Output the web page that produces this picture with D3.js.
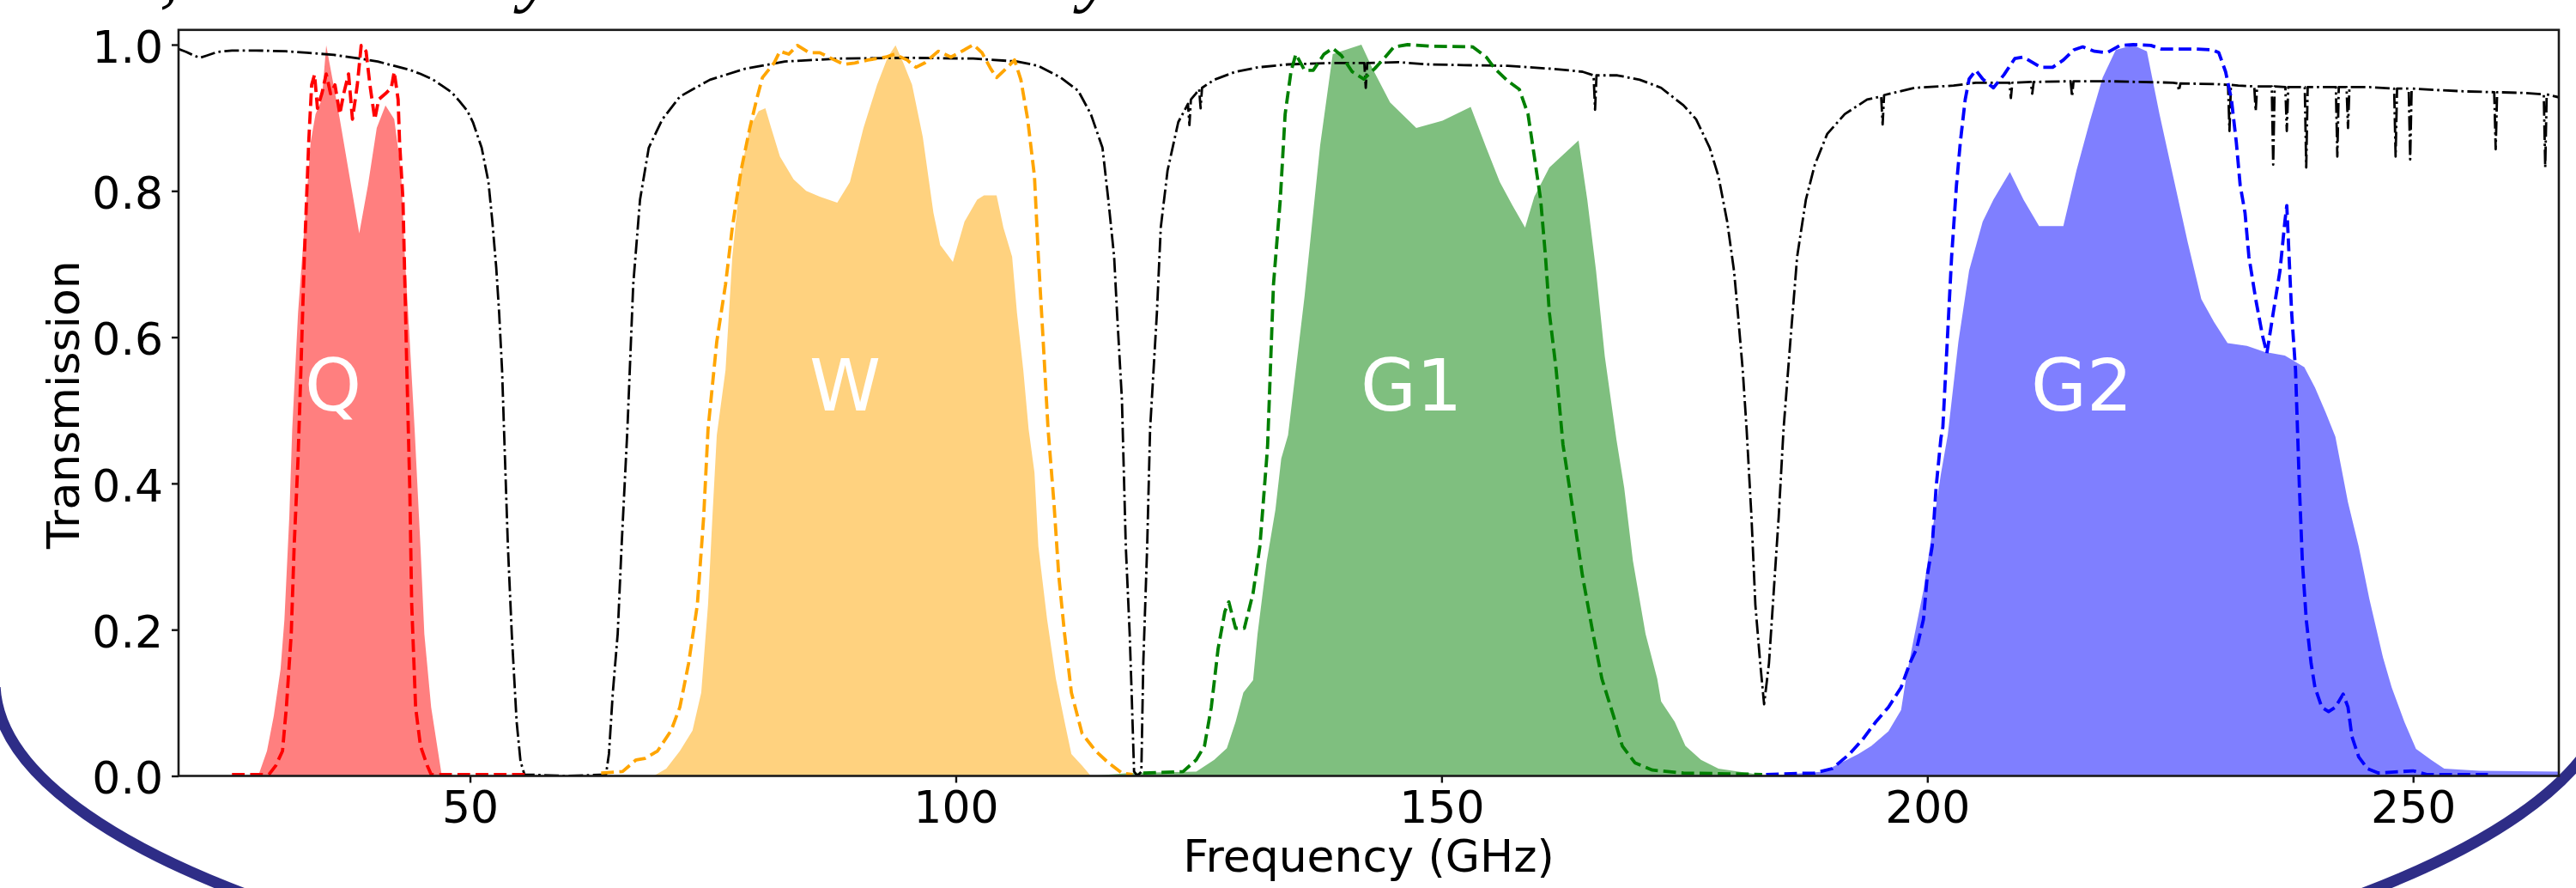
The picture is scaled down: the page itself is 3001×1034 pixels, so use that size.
<!DOCTYPE html>
<html><head><meta charset="utf-8">
<script src="https://cdn.jsdelivr.net/npm/d3@7"></script>
<style>body{margin:0;background:#fff;} svg{display:block;}</style>
</head><body>
<svg id="chart" width="3001" height="1034"></svg>
<script>
// ---- data (frequency GHz, transmission) ----
const atmosphere = [[20.0,0.994],[20.8,0.990],[21.6,0.985],[22.2,0.982],[22.9,0.985],[24.0,0.990],[25.5,0.992],[28.0,0.992],[31.0,0.991],[33.2,0.989],[36.0,0.986],[38.6,0.981],[40.5,0.977],[42.2,0.971],[43.7,0.966],[44.9,0.960],[46.1,0.953],[47.1,0.944],[48.1,0.935],[48.9,0.923],[49.7,0.910],[50.3,0.894],[51.2,0.859],[51.9,0.812],[52.3,0.758],[52.7,0.695],[53.0,0.633],[53.3,0.555],[53.5,0.474],[53.9,0.314],[54.3,0.194],[54.8,0.074],[55.2,0.020],[55.6,0.002],[60.0,0.0],[64.0,0.002],[64.3,0.030],[64.7,0.114],[65.2,0.194],[65.6,0.314],[66.2,0.474],[66.8,0.672],[67.5,0.788],[68.4,0.859],[69.8,0.898],[71.6,0.929],[74.7,0.952],[78.3,0.967],[82.4,0.977],[88.2,0.981],[95.0,0.982],[101.8,0.981],[106.3,0.977],[108.5,0.971],[110.8,0.955],[112.6,0.937],[113.9,0.905],[115.1,0.859],[115.7,0.788],[116.3,0.710],[116.6,0.633],[117.1,0.515],[117.5,0.314],[117.9,0.194],[118.1,0.114],[118.35,0.006],[118.7,0.0],[119.1,0.006],[119.3,0.154],[119.7,0.314],[120.0,0.474],[120.7,0.633],[121.1,0.750],[121.8,0.828],[122.9,0.894],[123.9,0.919],[124.05,0.890],[124.2,0.925],[124.7,0.933],[125.05,0.939],[125.2,0.913],[125.35,0.941],[126.6,0.952],[128.8,0.963],[131.1,0.969],[134.2,0.973],[138.8,0.975],[142.05,0.975],[142.2,0.941],[142.35,0.975],[145.6,0.976],[148.7,0.973],[152.3,0.972],[156.8,0.971],[161.4,0.967],[164.5,0.963],[165.65,0.958],[165.8,0.911],[165.95,0.958],[168.1,0.958],[170.4,0.952],[172.6,0.941],[174.9,0.917],[176.2,0.898],[177.6,0.859],[178.5,0.820],[179.4,0.758],[180.1,0.691],[180.5,0.633],[181.0,0.555],[181.4,0.474],[181.9,0.354],[182.3,0.234],[182.8,0.154],[183.2,0.098],[183.7,0.154],[184.1,0.234],[184.7,0.354],[185.2,0.474],[185.9,0.594],[186.6,0.710],[187.5,0.788],[188.4,0.835],[189.7,0.878],[191.5,0.905],[193.8,0.925],[195.25,0.929],[195.4,0.891],[195.55,0.931],[198.7,0.941],[202.7,0.944],[205.0,0.948],[208.45,0.948],[208.6,0.927],[208.75,0.948],[210.65,0.949],[210.8,0.933],[210.95,0.949],[214.75,0.950],[214.9,0.929],[215.05,0.950],[218.5,0.950],[225.3,0.948],[225.75,0.947],[225.9,0.937],[226.05,0.947],[229.8,0.946],[230.95,0.945],[231.1,0.882],[231.25,0.945],[232.0,0.944],[233.65,0.943],[233.8,0.909],[233.95,0.943],[235.45,0.943],[235.6,0.836],[235.75,0.943],[236.85,0.942],[237.0,0.882],[237.15,0.942],[238.85,0.942],[239.0,0.832],[239.15,0.942],[242.05,0.942],[242.2,0.847],[242.35,0.942],[243.15,0.942],[243.3,0.886],[243.45,0.942],[245.5,0.942],[248.05,0.940],[248.2,0.847],[248.35,0.940],[249.55,0.940],[249.7,0.843],[249.85,0.940],[252.3,0.938],[255.5,0.936],[258.35,0.935],[258.5,0.857],[258.65,0.935],[261.3,0.934],[263.45,0.932],[263.6,0.832],[263.75,0.932],[265.0,0.928]];

const qFill = [[28.2,0],[29.1,0.034],[29.8,0.082],[30.5,0.146],[30.9,0.214],[31.4,0.354],[31.7,0.474],[32.3,0.633],[32.95,0.750],[33.6,0.867],[34.1,0.905],[34.75,0.925],[35.2,0.999],[35.9,0.949],[36.6,0.898],[37.7,0.812],[38.6,0.742],[39.5,0.808],[40.4,0.886],[41.3,0.917],[42.2,0.898],[42.9,0.828],[43.3,0.710],[43.8,0.594],[44.3,0.474],[44.9,0.314],[45.3,0.194],[46.0,0.094],[46.7,0.034],[47.1,0]];
const qDash = [[25.5,0.002],[29.3,0.002],[30.0,0.014],[30.7,0.034],[31.1,0.094],[31.6,0.194],[31.9,0.314],[32.3,0.434],[32.5,0.515],[32.95,0.710],[33.4,0.867],[33.7,0.945],[34.0,0.959],[34.3,0.913],[34.75,0.933],[35.2,0.960],[35.65,0.933],[36.1,0.945],[36.6,0.905],[37.0,0.933],[37.5,0.960],[37.9,0.898],[38.4,0.945],[38.8,0.999],[39.3,0.991],[39.7,0.945],[40.2,0.898],[40.6,0.925],[41.3,0.933],[41.9,0.941],[42.2,0.963],[42.6,0.925],[42.75,0.867],[43.1,0.788],[43.3,0.672],[43.5,0.555],[43.8,0.394],[44.0,0.234],[44.4,0.094],[44.9,0.041],[45.6,0.014],[46.0,0.002],[55.7,0.002]];

const wFill = [[68.9,0.0],[70.2,0.010],[71.6,0.034],[72.9,0.062],[73.8,0.114],[74.5,0.234],[74.95,0.354],[75.4,0.466],[76.3,0.555],[77.0,0.710],[77.9,0.828],[78.8,0.886],[79.7,0.909],[80.4,0.913],[81.0,0.886],[81.9,0.847],[83.3,0.816],[84.6,0.800],[86.0,0.792],[87.8,0.784],[89.1,0.812],[90.5,0.886],[91.9,0.945],[93.0,0.983],[93.8,0.999],[94.6,0.975],[95.5,0.945],[96.6,0.874],[97.7,0.770],[98.4,0.726],[99.7,0.703],[100.9,0.758],[102.2,0.788],[102.9,0.794],[104.2,0.794],[104.9,0.750],[105.8,0.710],[106.3,0.633],[106.95,0.555],[107.5,0.474],[108.1,0.415],[108.5,0.314],[109.4,0.214],[110.3,0.133],[111.2,0.074],[111.9,0.030],[113.0,0.014],[113.9,0.0]];
const wDash = [[63.5,0.004],[65.7,0.006],[67.1,0.022],[68.0,0.024],[69.3,0.034],[70.7,0.062],[71.6,0.094],[72.5,0.154],[73.4,0.234],[74.05,0.354],[74.5,0.474],[75.4,0.594],[76.3,0.672],[77.0,0.750],[77.9,0.828],[78.8,0.886],[79.5,0.925],[80.1,0.955],[81.3,0.975],[81.9,0.991],[82.8,0.987],[83.7,0.999],[84.9,0.989],[86.0,0.989],[86.9,0.983],[88.5,0.973],[89.6,0.975],[90.95,0.979],[92.8,0.983],[93.7,0.987],[95.0,0.979],[95.9,0.969],[96.8,0.975],[98.2,0.991],[99.5,0.983],[100.9,0.993],[101.8,1.0],[102.7,0.989],[103.6,0.967],[104.2,0.955],[105.15,0.967],[106.05,0.979],[106.7,0.952],[107.4,0.898],[108.1,0.820],[108.5,0.710],[109.0,0.594],[109.5,0.474],[110.1,0.374],[110.6,0.274],[111.2,0.194],[111.9,0.114],[113.0,0.058],[114.4,0.034],[115.7,0.018],[117.1,0.004],[118.2,0.002]];

const g1Fill = [[114.0,0.0],[118.0,0.004],[124.75,0.006],[126.6,0.022],[127.9,0.038],[128.8,0.074],[129.6,0.114],[130.6,0.131],[131.06,0.194],[132.0,0.293],[132.9,0.364],[133.5,0.434],[134.2,0.466],[135.9,0.656],[137.5,0.862],[138.8,0.987],[140.6,0.995],[141.75,1.0],[142.9,0.967],[144.7,0.921],[147.4,0.886],[150.1,0.896],[153.0,0.915],[154.6,0.859],[156.0,0.812],[157.3,0.780],[158.6,0.750],[159.55,0.792],[161.1,0.832],[164.1,0.869],[165.0,0.788],[165.9,0.691],[166.8,0.574],[168.0,0.460],[168.8,0.394],[169.7,0.294],[171.0,0.194],[172.2,0.133],[172.6,0.102],[174.0,0.074],[175.1,0.041],[176.7,0.022],[178.5,0.010],[181.6,0.004],[183.4,0.0]];
const g1Dash = [[119.3,0.004],[123.4,0.006],[124.75,0.022],[125.6,0.041],[126.3,0.094],[127.0,0.174],[127.7,0.225],[128.1,0.238],[128.8,0.202],[129.7,0.202],[130.6,0.250],[131.3,0.314],[132.0,0.434],[132.1,0.453],[132.7,0.672],[133.4,0.788],[133.9,0.905],[134.5,0.963],[135.0,0.987],[135.9,0.965],[136.8,0.965],[137.9,0.987],[138.8,0.995],[139.7,0.985],[140.8,0.963],[142.0,0.953],[143.1,0.967],[144.2,0.983],[145.1,0.997],[146.5,1.0],[148.7,0.998],[153.2,0.997],[154.6,0.983],[155.5,0.967],[156.85,0.950],[158.0,0.939],[158.9,0.905],[159.55,0.847],[160.2,0.788],[160.7,0.710],[161.1,0.633],[161.8,0.555],[162.5,0.453],[163.4,0.374],[164.5,0.274],[165.6,0.194],[166.5,0.133],[167.7,0.082],[168.6,0.041],[169.9,0.018],[171.7,0.008],[174.9,0.004],[183.0,0.002]];

const g2Fill = [[183.4,0.0],[189.3,0.006],[191.1,0.018],[192.9,0.030],[194.25,0.041],[196.0,0.061],[197.3,0.090],[197.8,0.133],[198.7,0.194],[199.6,0.254],[200.5,0.334],[201.4,0.413],[202.1,0.466],[203.2,0.594],[204.3,0.691],[205.7,0.758],[206.8,0.788],[208.5,0.826],[209.9,0.788],[211.5,0.752],[214.0,0.752],[215.35,0.828],[216.7,0.894],[218.05,0.955],[219.4,0.993],[221.2,0.999],[222.6,0.991],[223.9,0.905],[225.3,0.820],[226.8,0.730],[228.2,0.652],[229.5,0.621],[230.9,0.592],[232.9,0.588],[234.7,0.580],[236.8,0.575],[238.8,0.559],[239.9,0.531],[241.0,0.497],[242.0,0.464],[243.3,0.374],[244.4,0.314],[245.5,0.242],[246.9,0.162],[247.8,0.121],[249.1,0.074],[250.3,0.037],[251.85,0.022],[253.2,0.010],[256.8,0.007],[265.0,0.006]];
const g2Dash = [[183.4,0.002],[188.4,0.004],[190.2,0.010],[192.0,0.030],[193.35,0.050],[194.7,0.074],[196.0,0.094],[197.3,0.121],[198.2,0.154],[198.9,0.174],[199.6,0.214],[200.0,0.274],[200.5,0.314],[200.9,0.394],[201.4,0.462],[201.6,0.477],[202.05,0.594],[202.5,0.710],[203.0,0.808],[203.4,0.867],[203.9,0.925],[204.3,0.953],[205.0,0.965],[205.7,0.953],[206.8,0.941],[207.9,0.959],[209.0,0.981],[209.9,0.983],[211.7,0.969],[212.9,0.969],[214.0,0.979],[215.1,0.993],[216.0,0.997],[217.2,0.991],[218.5,0.989],[219.85,0.999],[221.2,1.0],[223.0,0.999],[224.1,0.994],[227.5,0.994],[229.3,0.993],[230.0,0.989],[230.7,0.963],[231.3,0.925],[231.8,0.867],[232.2,0.808],[232.7,0.770],[233.1,0.710],[233.8,0.652],[234.5,0.602],[234.95,0.578],[235.6,0.633],[236.3,0.691],[236.8,0.758],[237.0,0.780],[237.3,0.691],[237.5,0.633],[237.9,0.555],[238.1,0.474],[238.3,0.394],[238.6,0.294],[239.0,0.214],[239.5,0.154],[239.9,0.121],[240.6,0.094],[241.3,0.088],[242.0,0.094],[242.8,0.112],[243.3,0.094],[243.7,0.054],[244.4,0.026],[245.3,0.010],[246.4,0.004],[250.0,0.007],[251.4,0.002],[257.7,0.002]];

const bandNames = ["Q","W","G1","G2"];
const bandColors = ["#ff0000","#ffa500","#008000","#0000ff"];
const bandFills = [qFill, wFill, g1Fill, g2Fill];
const bandDashes = [qDash, wDash, g1Dash, g2Dash];
const bandLabelFreq = [35.9, 88.6, 146.9, 215.9];
const bandLabelLevel = 0.5;

const xTicks = [50,100,150,200,250];
const yTicks = [0.0,0.2,0.4,0.6,0.8,1.0];
const xDomain = [20,265];
const yDomain = [0,1.0202];
const xLabel = "Frequency (GHz)";
const yLabel = "Transmission";
const topGlyphs = [",", "y", "y"];

// ---- layout ----
const svg = d3.select("#chart");
const plot = {left:208, right:2981, top:34.8, bottom:903.5};
const font = "DejaVu Sans, Verdana, sans-serif";

svg.append("rect").attr("width",3001).attr("height",1034).attr("fill","#fff");

const x = d3.scaleLinear().domain(xDomain).range([plot.left, plot.right]);
const y = d3.scaleLinear().domain(yDomain).range([plot.bottom, plot.top]);

const defs = svg.append("defs");
defs.append("clipPath").attr("id","plotclip").append("rect")
  .attr("x",plot.left).attr("y",plot.top)
  .attr("width",plot.right-plot.left).attr("height",plot.bottom-plot.top);
defs.append("clipPath").attr("id","lowclip").append("rect")
  .attr("x",-50).attr("y",800).attr("width",3100).attr("height",400);

// decorative slide outline (navy ellipse, lower part)
svg.append("ellipse").attr("clip-path","url(#lowclip)")
  .attr("cx",1518).attr("cy",794).attr("rx",1524).attr("ry",420)
  .attr("fill","none").attr("stroke","#2e2d87").attr("stroke-width",13);

// slide text descenders at the top
const topX = [186, 606, 1258];
svg.selectAll("text.top").data(topGlyphs).join("text").attr("class","top")
  .attr("x",(d,i)=>topX[i]).attr("y",-3)
  .attr("font-family","Liberation Serif, Times New Roman, serif")
  .attr("font-style","italic").attr("font-size",90).attr("fill","#000")
  .text(d=>d);

const g = svg.append("g").attr("clip-path","url(#plotclip)");

const area = d3.area().x(d=>x(d[0])).y0(y(0)).y1(d=>y(d[1]));
const line = d3.line().x(d=>x(d[0])).y(d=>y(d[1]));

bandFills.forEach((data,i)=>{
  g.append("path").datum(data).attr("d",area)
    .attr("fill",bandColors[i]).attr("fill-opacity",0.5).attr("stroke","none");
});

g.append("path").datum(atmosphere).attr("d",line)
  .attr("fill","none").attr("stroke","#000").attr("stroke-width",2.8)
  .attr("stroke-dasharray","17,4.3,2.7,4.3").attr("stroke-linejoin","round");

bandDashes.forEach((data,i)=>{
  g.append("path").datum(data).attr("d",line)
    .attr("fill","none").attr("stroke",bandColors[i]).attr("stroke-width",3.8)
    .attr("stroke-dasharray","14.8,6.4").attr("stroke-linejoin","round");
});

// band labels
svg.selectAll("text.band").data(bandNames).join("text").attr("class","band")
  .attr("x",(d,i)=>x(bandLabelFreq[i])).attr("y",y(bandLabelLevel))
  .attr("text-anchor","middle").attr("font-family",font)
  .attr("font-size",84).attr("fill","#fff").text(d=>d);

// axes
const xAxis = svg.append("g").attr("transform",`translate(0,${plot.bottom})`)
  .call(d3.axisBottom(x).tickValues(xTicks).tickFormat(d3.format("d")).tickSize(8).tickPadding(9.5));
const yAxis = svg.append("g").attr("transform",`translate(${plot.left},0)`)
  .call(d3.axisLeft(y).tickValues(yTicks).tickFormat(d3.format(".1f")).tickSize(8).tickPadding(10));
[xAxis,yAxis].forEach(ax=>{
  ax.select(".domain").remove();
  ax.selectAll(".tick line").attr("stroke","#111").attr("stroke-width",2.4);
  ax.selectAll(".tick text").attr("font-family",font).attr("font-size",52).attr("fill","#000");
});
yAxis.selectAll(".tick text").attr("dy","0.39em");

// frame
svg.append("rect").attr("x",plot.left).attr("y",plot.top)
  .attr("width",plot.right-plot.left).attr("height",plot.bottom-plot.top)
  .attr("fill","none").attr("stroke","#1a1a1a").attr("stroke-width",2.6);

// axis labels
svg.append("text").attr("x",(plot.left+plot.right)/2).attr("y",1015)
  .attr("text-anchor","middle").attr("font-family",font).attr("font-size",52)
  .attr("fill","#000").text(xLabel);
svg.append("text").attr("transform",`translate(92,${(plot.top+plot.bottom)/2+2}) rotate(-90)`)
  .attr("text-anchor","middle").attr("font-family",font).attr("font-size",52)
  .attr("fill","#000").text(yLabel);
</script>
</body></html>
